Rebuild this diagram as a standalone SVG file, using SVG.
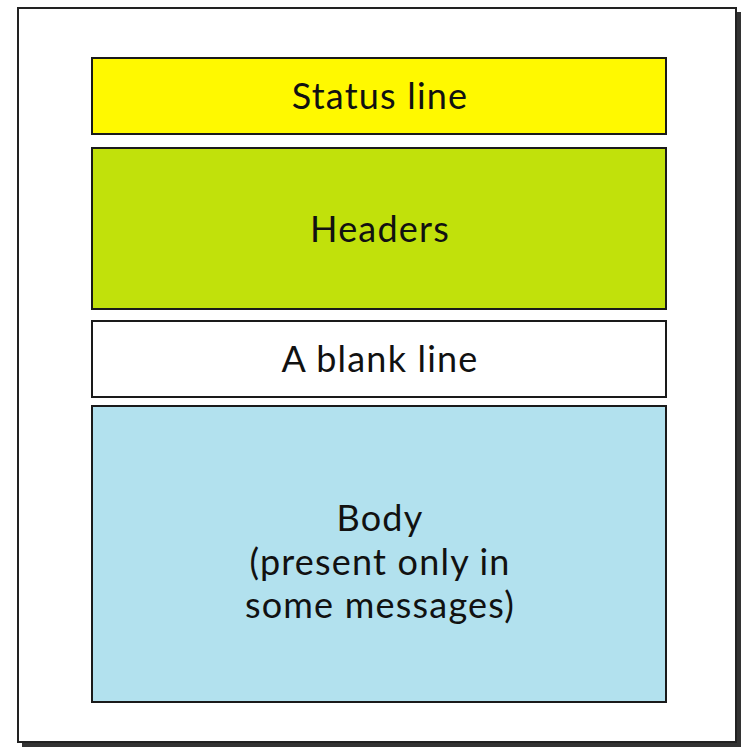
<svg xmlns="http://www.w3.org/2000/svg" width="747" height="753" viewBox="0 0 747 753">
<style>
.box{stroke:#1a1a1a;stroke-width:2}
.t{font-family:Lato,"Open Sans","Liberation Sans",sans-serif;font-size:36px;letter-spacing:1.2px;fill:#111;text-anchor:middle}
</style>
<rect width="747" height="753" fill="#fff"/>
<g id="frame">
<rect x="22" y="12" width="719" height="735" fill="#333"/>
<rect x="18" y="8" width="718" height="734" fill="#fff" stroke="#222" stroke-width="2"/>
</g>
<g id="status">
<rect class="box" x="92" y="58" width="574" height="76" fill="#fff900"/>
<text class="t" x="380" y="109">Status line</text>
</g>
<g id="headers">
<rect class="box" x="92" y="148" width="574" height="161" fill="#c1e10b"/>
<text class="t" x="380" y="242">Headers</text>
</g>
<g id="blank">
<rect class="box" x="92" y="321" width="574" height="76" fill="#fff"/>
<text class="t" x="380" y="372">A blank line</text>
</g>
<g id="body">
<rect class="box" x="92" y="406" width="574" height="296" fill="#b2e1ee"/>
<text class="t" x="380" y="531">Body</text>
<text class="t" x="380" y="574.5">(present only in</text>
<text class="t" x="380" y="618">some messages)</text>
</g>
<g id="connectors"/>
</svg>
